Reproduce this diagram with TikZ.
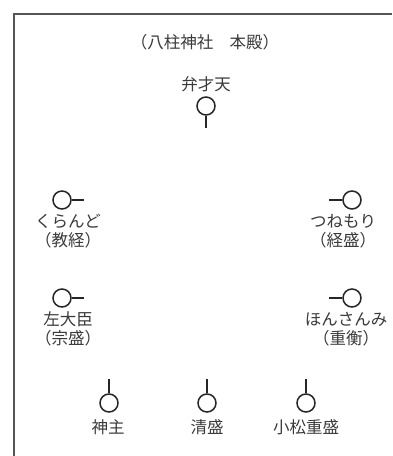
\documentclass[tikz,border=0pt]{standalone}
\usepackage{fontspec}
\setmainfont{Noto Sans CJK JP}
\usepackage{xcolor}
\definecolor{inkgray}{HTML}{3A3A3A}
\definecolor{framegray}{HTML}{555555}

\begin{document}
\begin{tikzpicture}[x=1pt,y=-1pt,line width=1.5pt,
  seat/.style={circle,draw=black!85,inner sep=0pt,minimum size=18pt},
  stem/.style={draw=black!85},
  namelabel/.style={text=inkgray,font=\fontsize{16.5}{19}\selectfont,align=center,inner sep=0pt}]
  \useasboundingbox (0,0) rectangle (392,456);
  \draw[framegray,line width=2pt] (14,456) -- (14,14) -- (392,14);

  \node[namelabel] (title) at (205,42) {（八柱神社　本殿）};

  \node[namelabel] (benzaitenlabel) at (206,84) {弁才天};
  \node[seat] (benzaiten) at (206,106) {};
  \coordinate (benzaitenend) at (206,128);
  \draw[stem] (benzaiten.south) -- (benzaitenend);

  \node[seat] (kurando) at (62,200) {};
  \coordinate (kurandoend) at (84,200);
  \draw[stem] (kurando.east) -- (kurandoend);
  \node[namelabel] (kurandolabel) at (68,231) {くらんど\\（教経）};

  \node[seat] (tsunemori) at (352,200) {};
  \coordinate (tsunemoriend) at (329,200);
  \draw[stem] (tsunemori.west) -- (tsunemoriend);
  \node[namelabel] (tsunemorilabel) at (343,231) {つねもり\\（経盛）};

  \node[seat] (sadaijin) at (62,298) {};
  \coordinate (sadaijinend) at (84,298);
  \draw[stem] (sadaijin.east) -- (sadaijinend);
  \node[namelabel] (sadaijinlabel) at (68,329) {左大臣\\（宗盛）};

  \node[seat] (honsanmi) at (352,298) {};
  \coordinate (honsanmiend) at (329,298);
  \draw[stem] (honsanmi.west) -- (honsanmiend);
  \node[namelabel] (honsanmilabel) at (346,329) {ほんさんみ\\（重衡）};

  \node[seat] (kannushi) at (109,403) {};
  \coordinate (kannushiend) at (109,379);
  \draw[stem] (kannushi.north) -- (kannushiend);
  \node[namelabel] (kannushilabel) at (108,427) {神主};

  \node[seat] (kiyomori) at (207,403) {};
  \coordinate (kiyomoriend) at (207,379);
  \draw[stem] (kiyomori.north) -- (kiyomoriend);
  \node[namelabel] (kiyomorilabel) at (207,427) {清盛};

  \node[seat] (shigemori) at (306,403) {};
  \coordinate (shigemoriend) at (306,379);
  \draw[stem] (shigemori.north) -- (shigemoriend);
  \node[namelabel] (shigemorilabel) at (306,427) {小松重盛};
\end{tikzpicture}
\end{document}
